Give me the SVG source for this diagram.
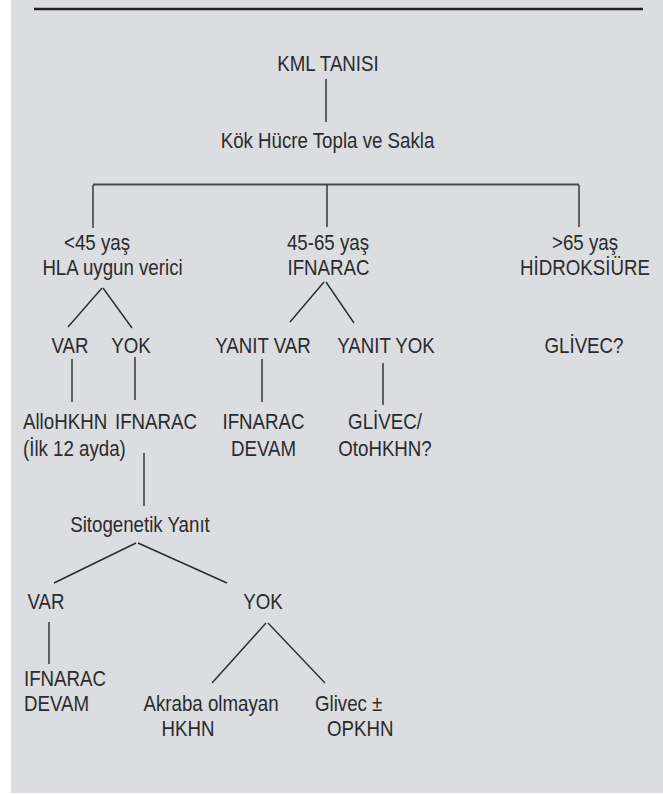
<svg xmlns="http://www.w3.org/2000/svg" width="663" height="794" viewBox="0 0 663 794">
<style>
text{font-family:"Liberation Sans",Arial,sans-serif;font-size:22px;fill:#2b2b2d}
.m{text-anchor:middle}
.s{text-anchor:start}
.c line{stroke:#2b2b2d;stroke-width:1.4;fill:none}
</style>
<rect x="0" y="0" width="663" height="794" fill="#ffffff"/>
<rect x="11" y="0" width="652" height="793" fill="#dcdde0"/>
<line x1="34" y1="9" x2="643" y2="9" stroke="#222224" stroke-width="2.6"/>
<g class="c" id="connectors">
<line x1="326" y1="79" x2="326" y2="122"/>
<line x1="93" y1="184.5" x2="579" y2="184.5" style="stroke-width:1.8;stroke:#48484a"/>
<line x1="93" y1="185" x2="93" y2="228"/>
<line x1="327" y1="185" x2="327" y2="227"/>
<line x1="579" y1="185" x2="579" y2="227"/>
<line x1="102" y1="288" x2="68" y2="327"/>
<line x1="103" y1="288" x2="132" y2="328"/>
<line x1="324" y1="282" x2="290" y2="322"/>
<line x1="326" y1="282" x2="354" y2="323"/>
<line x1="72" y1="359" x2="72" y2="402"/>
<line x1="135" y1="357" x2="135" y2="400"/>
<line x1="262" y1="359" x2="262" y2="402"/>
<line x1="383" y1="363" x2="383" y2="405"/>
<line x1="144" y1="453" x2="144" y2="506"/>
<line x1="136" y1="543" x2="54" y2="583"/>
<line x1="138" y1="543" x2="227" y2="583"/>
<line x1="49" y1="622" x2="49" y2="664"/>
<line x1="266" y1="623" x2="212" y2="683"/>
<line x1="268" y1="623" x2="325" y2="683"/>
</g>
<g id="n-kml"><text class="m" transform="translate(328,71) scale(0.85,1)">KML TANISI</text></g>
<g id="n-kok"><text class="m" transform="translate(327.5,148) scale(0.85,1)">Kök Hücre Topla ve Sakla</text></g>
<g id="n-lt45"><text class="m" transform="translate(97,250) scale(0.85,1)">&lt;45 yaş</text><text class="m" transform="translate(112.5,275) scale(0.85,1)">HLA uygun verici</text></g>
<g id="n-4565"><text class="m" transform="translate(328,250) scale(0.85,1)">45-65 yaş</text><text class="m" transform="translate(328.5,275) scale(0.85,1)">IFNARAC</text></g>
<g id="n-gt65"><text class="m" transform="translate(585,250) scale(0.85,1)">&gt;65 yaş</text><text class="m" transform="translate(585,275) scale(0.85,1)">HİDROKSİÜRE</text></g>
<g id="n-var1"><text class="m" transform="translate(70,353) scale(0.85,1)">VAR</text></g>
<g id="n-yok1"><text class="m" transform="translate(131,353) scale(0.85,1)">YOK</text></g>
<g id="n-yanitvar"><text class="m" transform="translate(263,353) scale(0.85,1)">YANIT VAR</text></g>
<g id="n-yanityok"><text class="m" transform="translate(386,353) scale(0.85,1)">YANIT YOK</text></g>
<g id="n-glivecq"><text class="m" transform="translate(584,353) scale(0.85,1)">GLİVEC?</text></g>
<g id="n-allo"><text class="s" transform="translate(23,429) scale(0.85,1)">AlloHKHN</text><text class="s" transform="translate(23,456) scale(0.85,1)">(İlk 12 ayda)</text></g>
<g id="n-ifn1"><text class="m" transform="translate(156,429) scale(0.85,1)">IFNARAC</text></g>
<g id="n-ifndevam1"><text class="m" transform="translate(263.5,429) scale(0.85,1)">IFNARAC</text><text class="m" transform="translate(263.5,456) scale(0.85,1)">DEVAM</text></g>
<g id="n-glivecoto"><text class="m" transform="translate(385,429) scale(0.85,1)">GLİVEC/</text><text class="m" transform="translate(385,456) scale(0.85,1)">OtoHKHN?</text></g>
<g id="n-sito"><text class="m" transform="translate(140,532) scale(0.85,1)">Sitogenetik Yanıt</text></g>
<g id="n-var2"><text class="m" transform="translate(46,609) scale(0.85,1)">VAR</text></g>
<g id="n-yok2"><text class="m" transform="translate(263,609) scale(0.85,1)">YOK</text></g>
<g id="n-ifndevam2"><text class="s" transform="translate(24,686) scale(0.85,1)">IFNARAC</text><text class="s" transform="translate(24,711) scale(0.85,1)">DEVAM</text></g>
<g id="n-akraba"><text class="m" transform="translate(211,711) scale(0.85,1)">Akraba olmayan</text><text class="m" transform="translate(188,736) scale(0.85,1)">HKHN</text></g>
<g id="n-glivecop"><text class="s" transform="translate(315,711) scale(0.85,1)">Glivec ±</text><text class="s" transform="translate(327,736) scale(0.85,1)">OPKHN</text></g>
</svg>
